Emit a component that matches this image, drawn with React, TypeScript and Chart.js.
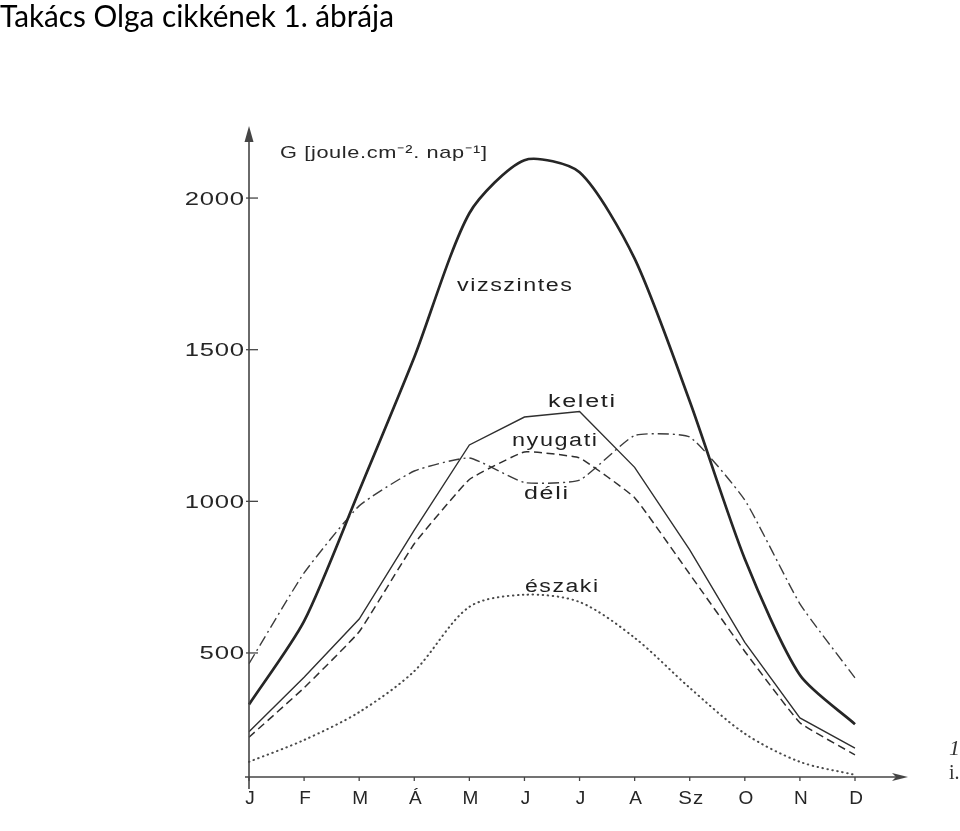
import React, { useEffect, useRef } from 'react';
import { Chart, registerables } from 'chart.js';

Chart.register(...registerables);

const chartTitle = 'Takács Olga cikkének 1. ábrája';
const axisTitle = 'G [joule.cm⁻². nap⁻¹]';
const months = ['J', 'F', 'M', 'Á', 'M', 'J', 'J', 'A', 'Sz', 'O', 'N', 'D'];
const yTicks = [500, 1000, 1500, 2000];
const seriesNames = ['vizszintes', 'keleti', 'nyugati', 'déli', 'északi'];

const vizszintes = [330, 605, 1035, 1475, 1950, 2125, 2085, 1800, 1330, 810, 427, 265];
const keleti = [240, 420, 612, 905, 1186, 1278, 1296, 1112, 840, 535, 286, 186];
const nyugati = [222, 385, 570, 860, 1072, 1163, 1143, 1012, 760, 505, 270, 164];
const deli = [465, 764, 985, 1100, 1143, 1062, 1070, 1217, 1212, 1004, 662, 418];
const eszaki = [141, 213, 305, 440, 652, 692, 668, 550, 385, 234, 141, 98];

const Y_MIN = 91;
const Y_MAX = 2231;

// Draw text stretched horizontally to a target width (wide typewriter look), with light tracking.
function wideText(
  ctx: CanvasRenderingContext2D,
  text: string,
  x: number,
  y: number,
  font: string,
  targetW: number,
  align: 'left' | 'center' | 'right' = 'left',
  tracking = 1
) {
  ctx.font = font;
  (ctx as any).letterSpacing = tracking + 'px';
  const w = ctx.measureText(text).width - tracking;
  const sx = targetW > 0 ? targetW / w : 1;
  const total = w * sx;
  let left = x;
  if (align === 'right') left = x - total;
  if (align === 'center') left = x - total / 2;
  ctx.save();
  ctx.translate(left, y);
  ctx.scale(sx, 1);
  ctx.textAlign = 'left';
  ctx.fillText(text, 0, 0);
  ctx.restore();
  (ctx as any).letterSpacing = '0px';
}

const decorPlugin = {
  id: 'decor',
  afterDraw(chart: any) {
    const ctx: CanvasRenderingContext2D = chart.ctx;
    const xs = chart.scales.x;
    const ys = chart.scales.y;
    const ca = chart.chartArea;
    ctx.save();
    ctx.textBaseline = 'alphabetic';

    // Title (Calibri-like), fitted to width
    ctx.fillStyle = '#000';
    ctx.font = '31px Lato, "Open Sans", sans-serif';
    const tw = ctx.measureText(chartTitle).width;
    ctx.save();
    ctx.translate(0, 27);
    ctx.scale(394 / tw, 1);
    ctx.textAlign = 'left';
    ctx.fillText(chartTitle, 0, 0);
    ctx.restore();

    const axisColor = '#454545';
    const x0 = ca.left;
    const yBase = ca.bottom;

    // Y axis with arrow
    ctx.strokeStyle = axisColor;
    ctx.fillStyle = axisColor;
    ctx.lineWidth = 1.6;
    ctx.beginPath();
    ctx.moveTo(x0, yBase + 12);
    ctx.lineTo(x0, ca.top + 2);
    ctx.stroke();
    ctx.beginPath();
    ctx.moveTo(x0, ca.top - 2);
    ctx.lineTo(x0 - 4.5, ca.top + 14);
    ctx.lineTo(x0 + 4.5, ca.top + 14);
    ctx.closePath();
    ctx.fill();

    // X axis with arrow
    const xEnd = 908;
    ctx.beginPath();
    ctx.moveTo(x0 - 4, yBase);
    ctx.lineTo(xEnd - 4, yBase);
    ctx.stroke();
    ctx.beginPath();
    ctx.moveTo(xEnd, yBase);
    ctx.lineTo(xEnd - 16, yBase - 4);
    ctx.lineTo(xEnd - 12, yBase);
    ctx.lineTo(xEnd - 16, yBase + 4);
    ctx.closePath();
    ctx.fill();

    // Y ticks and labels
    ctx.fillStyle = '#262626';
    ctx.lineWidth = 1.3;
    yTicks.forEach((v) => {
      const py = ys.getPixelForValue(v);
      ctx.beginPath();
      ctx.moveTo(x0 - 3, py);
      ctx.lineTo(x0 + 9, py);
      ctx.stroke();
      const label = String(v);
      wideText(ctx, label, x0 - 5, py + 6.5, '18px "Liberation Sans", Arial, sans-serif', label.length * 14.8, 'right', 0.5);
    });

    // X ticks and labels
    months.forEach((m, i) => {
      const px = xs.getPixelForValue(i);
      ctx.beginPath();
      ctx.moveTo(px, yBase);
      ctx.lineTo(px, yBase + 4);
      ctx.stroke();
      wideText(ctx, m, px + 1, yBase + 27, '19px "Liberation Sans", Arial, sans-serif', m.length > 1 ? 25 : 0, 'center', 1);
    });

    // Axis title
    wideText(ctx, axisTitle, 280, 158, '17px "Liberation Sans", Arial, sans-serif', 207, 'left', 0.5);

    // Series labels
    ctx.fillStyle = '#1f1f1f';
    const lf = '18px "Liberation Sans", Arial, sans-serif';
    wideText(ctx, seriesNames[0], 457, 291, lf, 115, 'left', 1.2);
    wideText(ctx, seriesNames[1], 548, 407, lf, 67, 'left', 1.2);
    wideText(ctx, seriesNames[2], 512, 446, lf, 85, 'left', 1.2);
    wideText(ctx, seriesNames[3], 524, 499, lf, 44, 'left', 1.2);
    wideText(ctx, seriesNames[4], 525, 592, lf, 73, 'left', 1.2);

    // Cropped marks at right edge
    ctx.fillStyle = '#333';
    ctx.font = 'italic 22px "Liberation Serif", serif';
    ctx.textAlign = 'left';
    ctx.fillText('1', 949, 755);
    ctx.font = '20px "Liberation Serif", serif';
    ctx.fillText('i.', 949, 779);

    ctx.restore();
  },
};

export default function App() {
  const canvasRef = useRef<HTMLCanvasElement | null>(null);

  useEffect(() => {
    if (!canvasRef.current) return;
    const lineColor = '#2f2f2f';
    const chart = new Chart(canvasRef.current, {
      type: 'line',
      data: {
        labels: months,
        datasets: [
          {
            label: seriesNames[0],
            data: vizszintes,
            borderColor: '#262626',
            borderWidth: 2.7,
            tension: 0.25,
            pointRadius: 0,
          },
          {
            label: seriesNames[1],
            data: keleti,
            borderColor: lineColor,
            borderWidth: 1.4,
            tension: 0,
            pointRadius: 0,
          },
          {
            label: seriesNames[2],
            data: nyugati,
            borderColor: lineColor,
            borderWidth: 1.5,
            borderDash: [8, 4.5],
            tension: 0.1,
            pointRadius: 0,
          },
          {
            label: seriesNames[3],
            data: deli,
            borderColor: '#3c3c3c',
            borderWidth: 1.4,
            borderDash: [11, 4, 2, 4],
            tension: 0.15,
            pointRadius: 0,
          },
          {
            label: seriesNames[4],
            data: eszaki,
            borderColor: '#4a4a4a',
            borderWidth: 2,
            borderDash: [0.5, 4.5],
            borderCapStyle: 'round',
            tension: 0.3,
            pointRadius: 0,
          },
        ],
      },
      options: {
        responsive: false,
        animation: false,
        layout: { padding: { left: 249, right: 105, top: 128, bottom: 54 } },
        plugins: {
          legend: { display: false },
          tooltip: { enabled: false },
          title: { display: false },
        },
        scales: {
          x: { type: 'category', display: false, offset: false },
          y: { type: 'linear', display: false, min: Y_MIN, max: Y_MAX },
        },
      },
      plugins: [decorPlugin],
    } as any);
    return () => chart.destroy();
  }, []);

  return (
    <div style={{ position: 'absolute', left: 0, top: 0, width: 960, height: 831, background: '#fff' }}>
      <canvas ref={canvasRef} width={960} height={831} style={{ display: 'block' }} />
    </div>
  );
}
